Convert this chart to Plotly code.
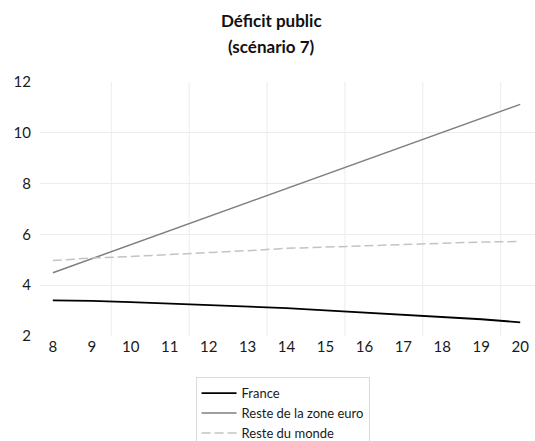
import plotly.graph_objects as go

# Years of the projection horizon
years = list(range(8, 21))
tick_labels = [str(y) for y in years]

# Public deficit (% of GDP), scenario 7
france = [3.40, 3.38, 3.33, 3.27, 3.21, 3.16, 3.10, 3.01, 2.92, 2.83, 2.75, 2.66, 2.54]
zone_euro = [4.49, 5.04, 5.60, 6.15, 6.70, 7.25, 7.80, 8.35, 8.91, 9.46, 10.01, 10.56, 11.12]
reste_monde = [4.97, 5.07, 5.13, 5.20, 5.28, 5.36, 5.45, 5.50, 5.56, 5.60, 5.65, 5.70, 5.72]

title_lines = ["Déficit public", "(scénario 7)"]

font = "Lato, 'Open Sans', sans-serif"

fig = go.Figure()
fig.add_trace(go.Scatter(x=years, y=france, mode="lines", name="France",
                         line=dict(color="#000000", width=1.8)))
fig.add_trace(go.Scatter(x=years, y=zone_euro, mode="lines", name="Reste de la zone euro",
                         line=dict(color="#7f7f7f", width=1.5)))
fig.add_trace(go.Scatter(x=years, y=reste_monde, mode="lines", name="Reste du monde",
                         line=dict(color="#c3c3c3", width=1.5, dash="9px,4px")))

# vertical gridlines between every other category
for g in [9.5, 11.5, 13.5, 15.5, 17.5, 19.5]:
    fig.add_shape(type="line", xref="x", yref="paper", x0=g, x1=g, y0=0, y1=1,
                  line=dict(color="#ececec", width=1), layer="below")

# two-line bold title
for i, line in enumerate(title_lines):
    fig.add_annotation(text=f"<b>{line}</b>", xref="paper", yref="paper",
                       x=0.467, y=1.0 + (62 - 26 * i) / 254, xanchor="center", yanchor="middle",
                       showarrow=False, font=dict(family=font, size=17, color="#111111"))

fig.update_layout(
    width=535, height=441,
    margin=dict(l=40, r=0, t=82, b=105, autoexpand=False),
    paper_bgcolor="white", plot_bgcolor="white",
    font=dict(family=font, size=13, color="#1a1a1a"),
    showlegend=True,
    legend=dict(x=0.49, xanchor="center", y=-0.162, yanchor="top",
                orientation="v", bordercolor="#d9d9d9", borderwidth=1,
                font=dict(family=font, size=13, color="#1a1a1a"),
                tracegroupgap=0, itemwidth=35),
)
fig.update_xaxes(range=[7.67, 20.38], tickmode="array", tickvals=years, ticktext=tick_labels,
                 showgrid=False, zeroline=False, showline=False, ticks="",
                 tickfont=dict(size=15))
fig.update_yaxes(range=[2, 12], dtick=2, showgrid=True, gridcolor="#ececec", gridwidth=1,
                 zeroline=False, showline=False, ticks="", ticklabelstandoff=8,
                 tickfont=dict(size=15))

fig.write_html("out.html")
